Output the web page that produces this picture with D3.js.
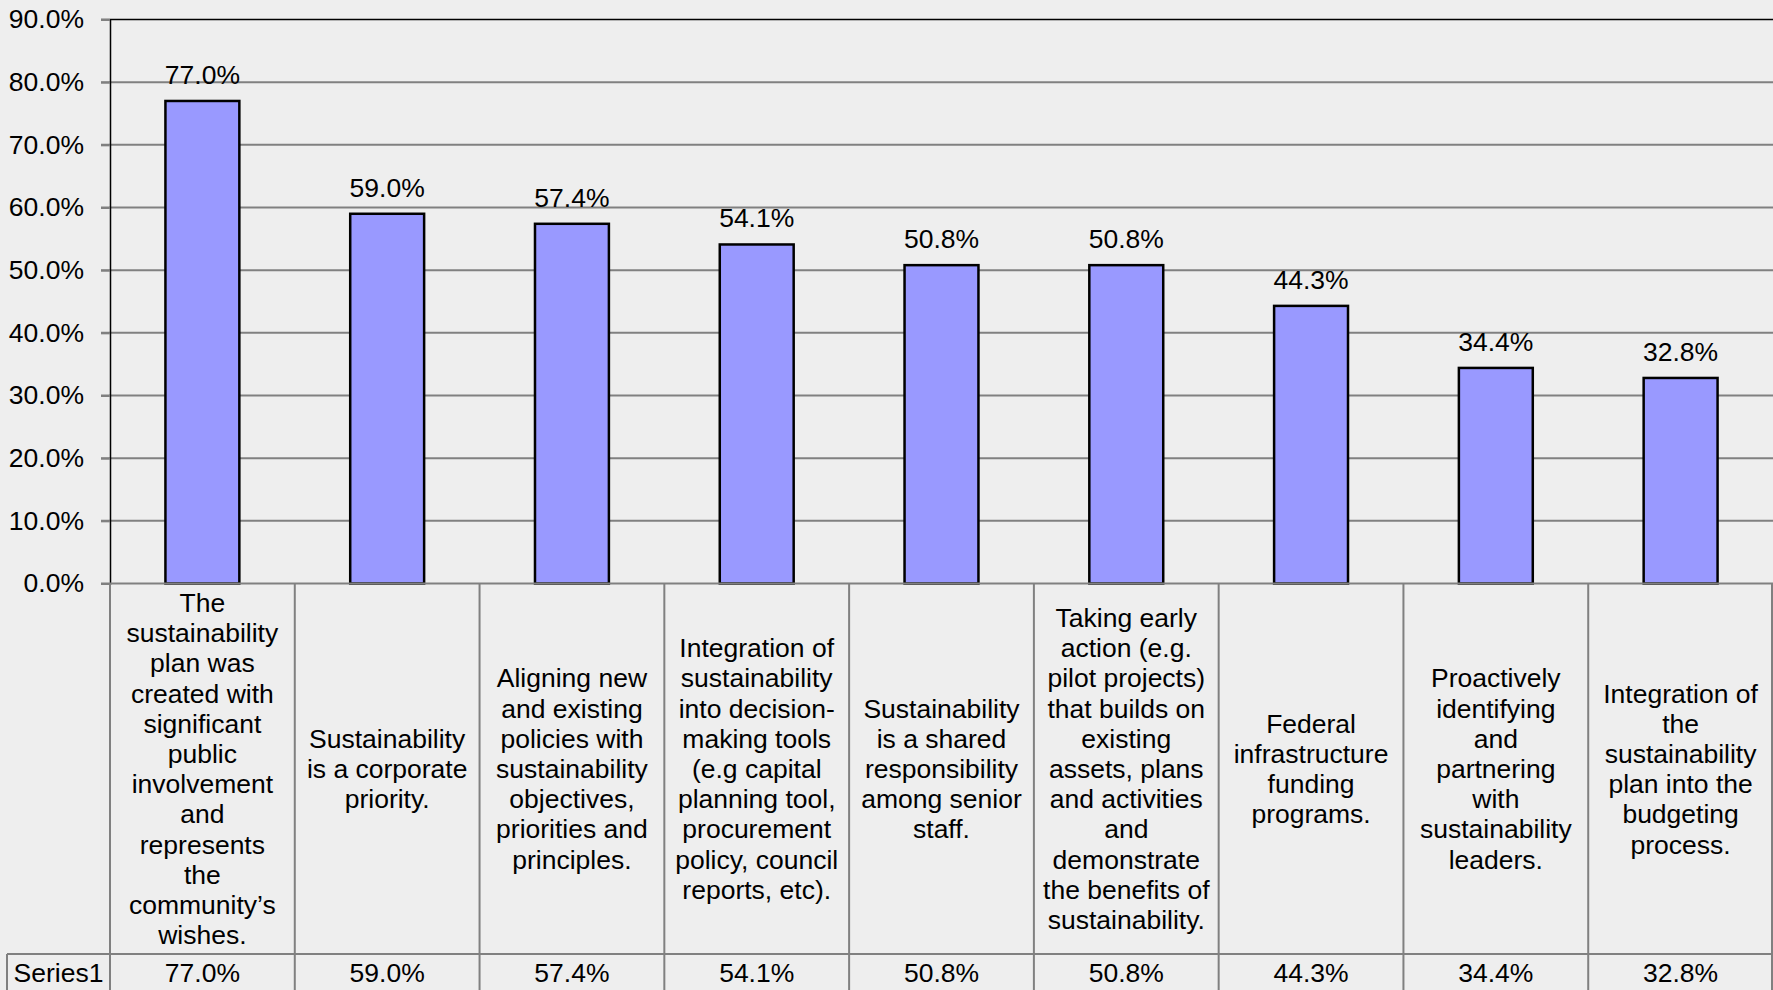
<!DOCTYPE html>
<html>
<head>
<meta charset="utf-8">
<script src="https://cdn.jsdelivr.net/npm/d3@7"></script>
<style>
  html, body { margin: 0; padding: 0; background: #eeeeee; }
  svg { display: block; }
</style>
</head>
<body>
<div id="chart"></div>
<script>
// data
var categories = [
  "The|sustainability|plan was|created with|significant|public|involvement|and|represents|the|community\u2019s|wishes.",
  "Sustainability|is a corporate|priority.",
  "Aligning new|and existing|policies with|sustainability|objectives,|priorities and|principles.",
  "Integration of|sustainability|into decision-|making tools|(e.g capital|planning tool,|procurement|policy, council|reports, etc).",
  "Sustainability|is a shared|responsibility|among senior|staff.",
  "Taking early|action (e.g.|pilot projects)|that builds on|existing|assets, plans|and activities|and|demonstrate|the benefits of|sustainability.",
  "Federal|infrastructure|funding|programs.",
  "Proactively|identifying|and|partnering|with|sustainability|leaders.",
  "Integration of|the|sustainability|plan into the|budgeting|process."
];
var values = [77.0, 59.0, 57.4, 54.1, 50.8, 50.8, 44.3, 34.4, 32.8];
var seriesName = "Series1";
var yTicks = [0, 10, 20, 30, 40, 50, 60, 70, 80, 90];

var W = 1773, H = 990;
var plotLeft = 110, plotRight = 1773, plotTop = 19.5, plotBottom = 583.5;
var seriesTop = 954, tableLeft = 7;
var fontFam = "'Liberation Sans', Arial, sans-serif";
var fs = 26.5, lineH = 30.2;

var svg = d3.select("#chart").append("svg")
    .attr("width", W)
    .attr("height", H)
    .style("background", "#eeeeee");

var x = d3.scaleBand()
    .domain(d3.range(categories.length))
    .range([plotLeft, plotRight])
    .paddingInner(0.6)
    .paddingOuter(0.3);

var xb = d3.scaleBand()
    .domain(d3.range(categories.length))
    .range([plotLeft, plotRight]);

var y = d3.scaleLinear()
    .domain([0, 90])
    .range([plotBottom, plotTop]);

var fmt = function(v) { return d3.format(".1f")(v) + "%"; };

// gridlines
svg.append("g").selectAll("line")
  .data(yTicks.filter(function(t) { return t > 0; }))
  .enter().append("line")
    .attr("x1", plotLeft - 9)
    .attr("x2", plotRight)
    .attr("y1", function(d) { return y(d); })
    .attr("y2", function(d) { return y(d); })
    .attr("stroke", function(d) { return d === 90 ? "#000" : "#808080"; })
    .attr("stroke-width", function(d) { return d === 90 ? 1.5 : 2; });

// y axis
var yAxis = svg.append("g")
    .attr("transform", "translate(" + plotLeft + ",0)")
    .call(d3.axisLeft(y).tickValues(yTicks).tickSize(9).tickPadding(17)
      .tickFormat(fmt));
yAxis.select(".domain").attr("stroke", "#000").attr("stroke-width", 1.5);
yAxis.selectAll(".tick line").attr("stroke", "#808080").attr("stroke-width", 2);
yAxis.selectAll(".tick text")
    .attr("font-family", fontFam)
    .attr("font-size", fs)
    .attr("fill", "#000");

// bars
svg.append("g").selectAll("rect")
  .data(values)
  .enter().append("rect")
    .attr("x", function(d, i) { return x(i); })
    .attr("y", function(d) { return y(d); })
    .attr("width", x.bandwidth())
    .attr("height", function(d) { return y(0) - y(d); })
    .attr("fill", "#9999ff")
    .attr("stroke", "#000")
    .attr("stroke-width", 2.5);

// value labels
svg.append("g").selectAll("text")
  .data(values)
  .enter().append("text")
    .attr("x", function(d, i) { return x(i) + x.bandwidth() / 2; })
    .attr("y", function(d) { return y(d) - 17; })
    .attr("text-anchor", "middle")
    .attr("font-family", fontFam)
    .attr("font-size", fs)
    .attr("fill", "#000")
    .text(fmt);

// baseline
svg.append("line")
    .attr("x1", plotLeft - 9).attr("x2", plotRight)
    .attr("y1", plotBottom).attr("y2", plotBottom)
    .attr("stroke", "#808080").attr("stroke-width", 2);

// data table
var table = svg.append("g");
table.selectAll("line.v")
  .data(d3.range(categories.length + 1))
  .enter().append("line")
    .attr("class", "v")
    .attr("x1", function(i) { return i < categories.length ? xb(i) : plotRight - 1; })
    .attr("x2", function(i) { return i < categories.length ? xb(i) : plotRight - 1; })
    .attr("y1", plotBottom)
    .attr("y2", H)
    .attr("stroke", "#808080")
    .attr("stroke-width", 2);

table.append("line")
    .attr("x1", tableLeft).attr("x2", plotRight)
    .attr("y1", seriesTop).attr("y2", seriesTop)
    .attr("stroke", "#808080").attr("stroke-width", 2);
table.append("line")
    .attr("x1", tableLeft).attr("x2", tableLeft)
    .attr("y1", seriesTop).attr("y2", H)
    .attr("stroke", "#808080").attr("stroke-width", 2);

// category labels
var midY = (plotBottom + seriesTop) / 2;
table.selectAll("text.cat")
  .data(categories)
  .enter().append("text")
    .attr("class", "cat")
    .attr("text-anchor", "middle")
    .attr("font-family", fontFam)
    .attr("font-size", fs)
    .attr("fill", "#000")
    .each(function(d, i) {
      var lines = d.split("|");
      var cx = xb(i) + xb.bandwidth() / 2;
      var startY = midY - (lines.length - 1) * lineH / 2;
      d3.select(this).selectAll("tspan")
        .data(lines)
        .enter().append("tspan")
          .attr("x", cx)
          .attr("y", function(l, j) { return startY + j * lineH; })
          .attr("dy", "0.35em")
          .text(function(l) { return l; });
    });

// series row
table.append("text")
    .attr("x", (tableLeft + plotLeft) / 2)
    .attr("y", 982)
    .attr("text-anchor", "middle")
    .attr("font-family", fontFam)
    .attr("font-size", fs)
    .attr("fill", "#000")
    .text(seriesName);

table.selectAll("text.val")
  .data(values)
  .enter().append("text")
    .attr("class", "val")
    .attr("x", function(d, i) { return xb(i) + xb.bandwidth() / 2; })
    .attr("y", 982)
    .attr("text-anchor", "middle")
    .attr("font-family", fontFam)
    .attr("font-size", fs)
    .attr("fill", "#000")
    .text(fmt);
</script>
</body>
</html>
